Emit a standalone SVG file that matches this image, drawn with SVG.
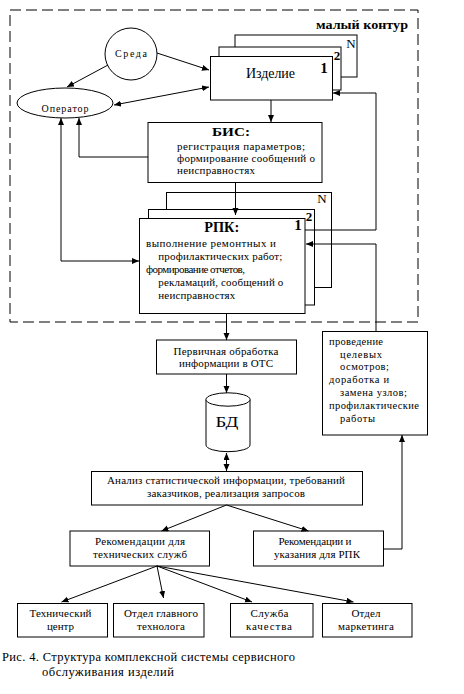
<svg xmlns="http://www.w3.org/2000/svg" width="464" height="694" viewBox="0 0 464 694">
<defs>
<marker id="arr" markerUnits="userSpaceOnUse" markerWidth="8" markerHeight="8" refX="7" refY="3" orient="auto-start-reverse">
<path d="M0,0 L7,3 L0,6 z" fill="#000"/>
</marker>
<style>
text{font-family:Liberation Serif, Times New Roman, DejaVu Serif, serif;fill:#000}
.b{fill:#fff;stroke:#000;stroke-width:1}
.a{fill:none;stroke:#000;stroke-width:1;marker-end:url(#arr)}
.aa{fill:none;stroke:#000;stroke-width:1;marker-end:url(#arr);marker-start:url(#arr)}
.s10{font-size:10px}
.s11{font-size:11px}
.m{text-anchor:middle}
.bold{font-weight:bold}
</style>
</defs>
<rect width="464" height="694" fill="#fff"/>

<g id="contour">
<rect x="10" y="10" width="408" height="312" fill="none" stroke="#000" stroke-width="1" stroke-dasharray="11 5"/>
<text x="316" y="29" class="bold" font-size="12" textLength="92" lengthAdjust="spacingAndGlyphs">малый контур</text>
</g>

<g id="sreda">
<circle cx="131" cy="54" r="26" class="b"/>
<text x="131" y="57" class="s10 m" textLength="32">Среда</text>
</g>

<g id="operator">
<ellipse cx="65" cy="103" rx="48" ry="15" class="b"/>
<text x="65" y="112" class="s10 m" textLength="47">Оператор</text>
</g>

<g id="izdelie">
<rect x="235" y="35" width="122" height="42" class="b"/>
<text x="351" y="48" font-size="13" class="m">N</text>
<rect x="219" y="47" width="122" height="43" class="b"/>
<text x="337" y="60" font-size="13" class="bold m">2</text>
<rect x="210.5" y="56.5" width="122" height="43.5" class="b"/>
<text x="324" y="73" font-size="15" class="bold m">1</text>
<text x="270.5" y="78" font-size="14" class="m" textLength="49">Изделие</text>
</g>

<g id="bis">
<rect x="148" y="122.5" width="174" height="60" class="b"/>
<text x="231" y="136" font-size="12" class="bold m" textLength="38" lengthAdjust="spacingAndGlyphs">БИС:</text>
<text x="177" y="150" class="s11" textLength="128">регистрация параметров;</text>
<text x="177" y="162" class="s11" textLength="138">формирование сообщений о</text>
<text x="177" y="174" class="s11" textLength="78">неисправностях</text>
</g>

<g id="rpk">
<rect x="166.5" y="192.5" width="165" height="95" class="b"/>
<text x="322" y="203" font-size="13" class="m">N</text>
<rect x="148.5" y="209.5" width="166" height="95.5" class="b"/>
<text x="309" y="221" font-size="13" class="bold m">2</text>
<rect x="139.5" y="218.5" width="165.5" height="95" class="b"/>
<text x="298" y="230" font-size="15" class="bold m">1</text>
<text x="221.7" y="232" font-size="15" class="bold m" textLength="35" lengthAdjust="spacingAndGlyphs">РПК:</text>
<text x="146" y="247" class="s11" textLength="130">выполнение ремонтных и</text>
<text x="158.3" y="260" class="s11" textLength="124">профилактических работ;</text>
<text x="146" y="273" class="s11" textLength="99">формирование отчетов,</text>
<text x="158.3" y="286" class="s11" textLength="125">рекламаций, сообщений о</text>
<text x="158.3" y="299" class="s11" textLength="77">неисправностях</text>
</g>

<g id="pervichnaya">
<rect x="156.5" y="340" width="140" height="34" class="b"/>
<text x="226" y="354.5" class="s11 m" textLength="105">Первичная обработка</text>
<text x="226" y="367" class="s11 m" textLength="94">информации в ОТС</text>
</g>

<g id="bd">
<path d="M206,399.5 L206,445 A22,6.7 0 0 0 250,445 L250,399.5" class="b"/>
<ellipse cx="228" cy="399.5" rx="22" ry="6.7" class="b"/>
<text x="227" y="427" font-size="14" class="m" textLength="23" lengthAdjust="spacingAndGlyphs">БД</text>
</g>

<g id="provedenie">
<rect x="322.5" y="331.5" width="105" height="103.5" class="b"/>
<text x="329" y="345" font-size="10.5" textLength="54">проведение</text>
<text x="340" y="357.5" font-size="10.5" textLength="42">целевых</text>
<text x="340" y="370" font-size="10.5" textLength="49">осмотров;</text>
<text x="329" y="383" font-size="10.5" textLength="60">доработка и</text>
<text x="340" y="396" font-size="10.5" textLength="67">замена узлов;</text>
<text x="329" y="408.5" font-size="10.5" textLength="90">профилактические</text>
<text x="340" y="421.5" font-size="10.5" textLength="35">работы</text>
</g>

<g id="analiz">
<rect x="91.5" y="471.5" width="271" height="33.5" class="b"/>
<text x="226" y="484" class="s11 m" textLength="238">Анализ статистической информации, требований</text>
<text x="226" y="497" class="s11 m" textLength="158">заказчиков, реализация запросов</text>
</g>

<g id="rek-tech">
<rect x="70" y="531" width="139.5" height="35" class="b"/>
<text x="140" y="544.5" class="s11 m" textLength="90">Рекомендации для</text>
<text x="140" y="558" class="s11 m" textLength="94">технических служб</text>
</g>

<g id="rek-rpk">
<rect x="253.5" y="531" width="130" height="35" class="b"/>
<text x="315" y="544.5" class="s11 m" textLength="73">Рекомендации и</text>
<text x="317" y="558" class="s11 m" textLength="86">указания для РПК</text>
</g>

<g id="tech-center">
<rect x="17.5" y="603.5" width="90" height="33.5" class="b"/>
<text x="60.5" y="617" class="s11 m" textLength="62">Технический</text>
<text x="60.5" y="629.5" class="s11 m" textLength="27">центр</text>
</g>

<g id="glav-tech">
<rect x="113.5" y="603.5" width="90.5" height="33.5" class="b"/>
<text x="161" y="617" class="s11 m" textLength="74">Отдел главного</text>
<text x="161" y="629.5" class="s11 m" textLength="48">технолога</text>
</g>

<g id="kachestvo">
<rect x="230.5" y="603.5" width="82.5" height="33.5" class="b"/>
<text x="269.5" y="617" class="s11 m" textLength="38">Служба</text>
<text x="269" y="629.5" class="s11 m" textLength="46">качества</text>
</g>

<g id="marketing">
<rect x="322.5" y="603.5" width="89.5" height="33.5" class="b"/>
<text x="366" y="617" class="s11 m" textLength="29">Отдел</text>
<text x="366" y="629.5" class="s11 m" textLength="56">маркетинга</text>
</g>

<g id="connectors">
<line x1="157" y1="53" x2="209" y2="70" class="a"/>
<line x1="108" y1="65" x2="67" y2="87" class="a"/>
<line x1="114" y1="105" x2="209" y2="87" class="aa"/>
<line x1="271" y1="100" x2="271" y2="122" class="a"/>
<polyline points="148,157 79,157 79,118" class="a"/>
<polyline points="61,118 61,261 139,261" class="aa"/>
<line x1="235.5" y1="183" x2="235.5" y2="215" class="a"/>
<polyline points="305,230 376,230 376,93 333,93" class="a"/>
<polyline points="376,332 376,244 306,244" class="a"/>
<line x1="226.5" y1="314" x2="226.5" y2="340" class="a"/>
<line x1="226.5" y1="374" x2="226.5" y2="393" class="a"/>
<line x1="226.5" y1="453" x2="226.5" y2="471" class="aa"/>
<line x1="226.5" y1="505" x2="161.5" y2="531" class="a"/>
<line x1="226.5" y1="505" x2="308.5" y2="531" class="a"/>
<polyline points="383.5,549 402,549 402,435" class="a"/>
<line x1="157" y1="566" x2="61.5" y2="602" class="a"/>
<line x1="157" y1="566" x2="163.5" y2="598" class="a"/>
<line x1="157" y1="566" x2="252" y2="602" class="a"/>
<line x1="157" y1="566" x2="353.5" y2="602" class="a"/>
</g>

<g id="caption">
<text x="2" y="661" font-size="12.5" textLength="293">Рис. 4. Структура комплексной системы сервисного</text>
<text x="42" y="676" font-size="12.5" textLength="132">обслуживания изделий</text>
</g>
</svg>
